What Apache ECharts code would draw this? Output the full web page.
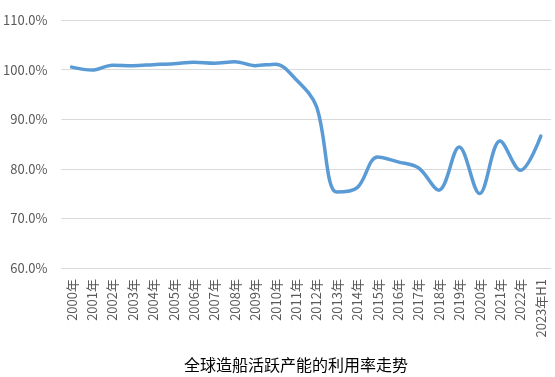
<!DOCTYPE html>
<html>
<head>
<meta charset="utf-8">
<script src="https://cdn.jsdelivr.net/npm/echarts@6/dist/echarts.min.js"></script>
<style>
  html, body { margin: 0; padding: 0; background: #fff; }
  #chart { width: 555px; height: 377px; }
</style>
</head>
<body>
<div id="chart"></div>
<script>
var years = ['2000年', '2001年', '2002年', '2003年', '2004年', '2005年', '2006年', '2007年',
  '2008年', '2009年', '2010年', '2011年', '2012年', '2013年', '2014年', '2015年',
  '2016年', '2017年', '2018年', '2019年', '2020年', '2021年', '2022年', '2023年H1']
// 利用率 (%)
var utilization = [100.5, 99.9, 100.9, 100.8, 101.0, 101.2, 101.5, 101.3,
  101.6, 100.8, 101.1, 98.0, 92.6, 75.3, 76.2, 82.4,
  81.4, 80.2, 75.7, 84.4, 75.0, 85.6, 79.7, 86.6]
var yMin = 60
var yMax = 110
var yStep = 10

var font = '"Noto Sans CJK SC", "Noto Sans", sans-serif'
var chart = echarts.init(document.getElementById('chart'))
chart.setOption({
  animation: false,
  title: {
    text: '全球造船活跃产能的利用率走势',
    left: 179,
    top: 352,
    textStyle: {
      fontFamily: font,
      fontSize: 16,
      fontWeight: 'normal',
      color: '#000'
    }
  },
  grid: {
    left: 60,
    right: 4,
    top: 20,
    bottom: 109
  },
  xAxis: {
    type: 'category',
    data: years,
    boundaryGap: true,
    axisLine: { show: false },
    axisTick: { show: false },
    axisLabel: {
      rotate: 90,
      interval: 0,
      margin: 11,
      fontFamily: font,
      fontSize: 13,
      color: '#595959'
    }
  },
  yAxis: {
    type: 'value',
    min: yMin,
    max: yMax,
    interval: yStep,
    axisLine: { show: false },
    axisTick: { show: false },
    axisLabel: {
      margin: 14,
      fontFamily: font,
      fontSize: 13,
      color: '#595959',
      formatter: function (v) { return v.toFixed(1) + '%' }
    },
    splitLine: {
      lineStyle: { color: '#D9D9D9', width: 1 }
    }
  },
  series: [
    {
      type: 'line',
      data: utilization,
      smooth: 0.35,
      symbol: 'none',
      lineStyle: {
        color: '#5B9BD5',
        width: 3.5,
        cap: 'round'
      }
    }
  ]
})
</script>
</body>
</html>
